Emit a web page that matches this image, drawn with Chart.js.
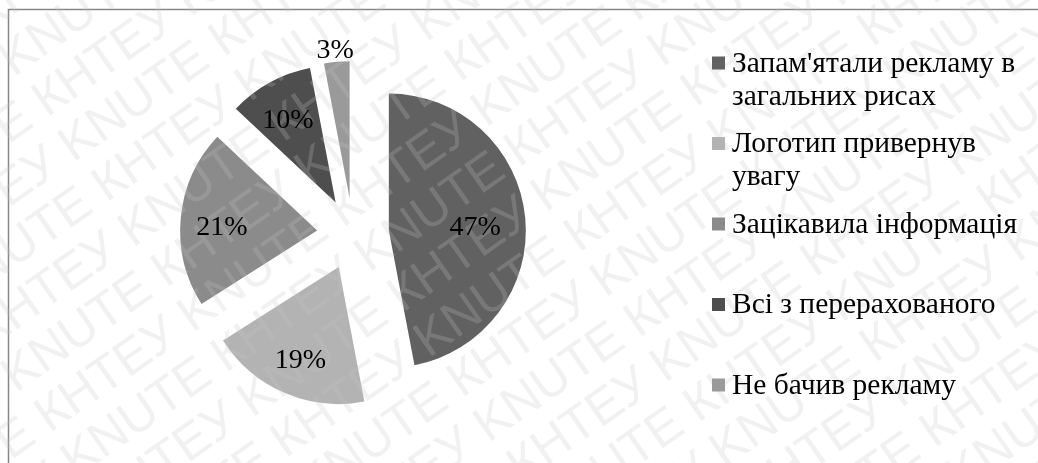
<!DOCTYPE html>
<html>
<head>
<meta charset="utf-8">
<script src="https://cdn.jsdelivr.net/npm/chart.js@4.4.1/dist/chart.umd.min.js"></script>
<style>
  html, body { margin: 0; padding: 0; background: #fff; }
  #wrap { width: 1038px; height: 463px; }
</style>
</head>
<body>
<div id="wrap"><canvas id="pie" width="1038" height="463"></canvas></div>
<script>
// категорії (підписи легенди, по рядках)
const categories = [
    ["Запам'ятали рекламу в", "загальних рисах"],
    ["Логотип привернув", "увагу"],
    ["Зацікавила інформація"],
    ["Всі з перерахованого"],
    ["Не бачив рекламу"]
];
// частки, %
const shares = [47, 19, 21, 10, 3];
const sliceColors = ['#616161', '#b3b3b3', '#8b8b8b', '#4e4e4e', '#9a9a9a'];

const SERIF = '"Liberation Serif", "Times New Roman", serif';
const EXPLODE = 36; // на скільки кожен сектор відсунуто від центру

// водяний знак поверх секторів
function drawWatermark(chart) {
    const { ctx, width, height } = chart;
    ctx.save();
    ctx.font = '50px "Liberation Sans", Arial, sans-serif';
    ctx.fillStyle = 'rgba(195,195,195,0.24)';
    ctx.translate(width / 2, height / 2);
    ctx.rotate(-35 * Math.PI / 180);
    const row = 'KNUTE КНТЕУ ';
    const period = ctx.measureText(row).width;
    for (let k = -12; k <= 12; k++) {
        const shift = (Math.abs(k) % 2) * period / 2;
        ctx.fillText(row.repeat(8), -1400 + shift, k * 52);
    }
    ctx.restore();
}

const explodedPie = {
    id: 'explodedPie',
    beforeDraw(chart) {
        const { ctx } = chart;
        ctx.save();
        ctx.strokeStyle = '#878787';
        ctx.lineWidth = 1.5;
        ctx.strokeRect(8.5, 9.5, 1100, 500);
        ctx.restore();
    },
    // кожен сектор малюємо зі зсувом уздовж його середнього кута
    beforeDatasetDraw(chart, args) {
        const { ctx } = chart;
        args.meta.data.forEach(arc => {
            const mid = (arc.startAngle + arc.endAngle) / 2;
            ctx.save();
            ctx.translate(Math.cos(mid) * EXPLODE, Math.sin(mid) * EXPLODE);
            arc.draw(ctx);
            ctx.restore();
        });
        return false;
    },
    afterDatasetsDraw(chart) {
        const { ctx } = chart;
        drawWatermark(chart);

        // підписи секторів: великі ближче до центру, дрібні — назовні
        const meta = chart.getDatasetMeta(0);
        const ds = chart.data.datasets[0];
        ctx.save();
        ctx.font = '28px ' + SERIF;
        ctx.fillStyle = '#000';
        ctx.textAlign = 'center';
        ctx.textBaseline = 'alphabetic';
        meta.data.forEach((arc, i) => {
            const mid = (arc.startAngle + arc.endAngle) / 2;
            const r = arc.outerRadius;
            const v = ds.data[i];
            const dist = EXPLODE + (v < 5 ? r + 17 : r * (0.75 - 0.25 * v / 100));
            ctx.fillText(v + '%', arc.x + Math.cos(mid) * dist, arc.y + Math.sin(mid) * dist + 13);
        });
        ctx.restore();

        // легенда праворуч
        ctx.save();
        ctx.font = '29.5px ' + SERIF;
        ctx.textBaseline = 'alphabetic';
        chart.data.labels.forEach((lines, i) => {
            const base = 71.5 + i * 80.5;
            ctx.fillStyle = ds.backgroundColor[i];
            ctx.fillRect(712, base - 15, 13, 13);
            ctx.fillStyle = '#000';
            lines.forEach((t, j) => ctx.fillText(t, 732, base + j * 33));
        });
        ctx.restore();
    }
};

new Chart(document.getElementById('pie'), {
    type: 'pie',
    data: {
        labels: categories,
        datasets: [{
            data: shares,
            backgroundColor: sliceColors,
            borderWidth: 0,
            hoverOffset: 0
        }]
    },
    options: {
        responsive: false,
        devicePixelRatio: 1,
        animation: false,
        events: [],
        layout: { padding: { left: 216, right: 548, top: 97, bottom: 92 } },
        plugins: {
            legend: { display: false },
            tooltip: { enabled: false }
        }
    },
    plugins: [explodedPie]
});
</script>
</body>
</html>
